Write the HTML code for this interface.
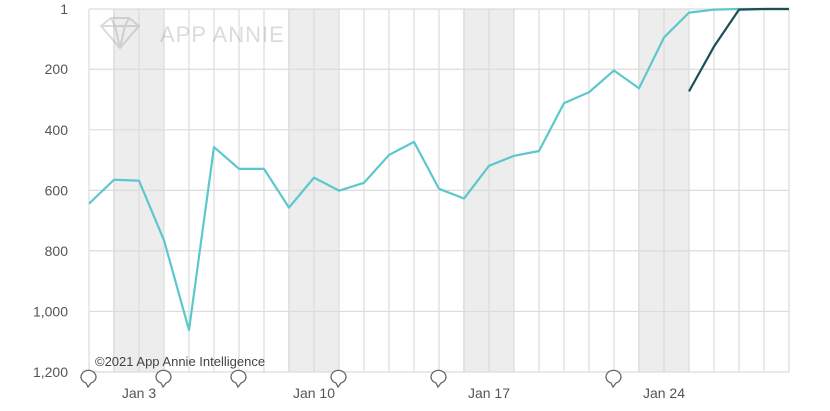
<!DOCTYPE html>
<html><head><meta charset="utf-8"><style>
body{margin:0;background:#fff;}
svg{display:block;font-family:"Liberation Sans",sans-serif;}
</style></head><body>
<svg id="chart" width="830" height="411" viewBox="0 0 830 411"></svg>
<script>
const days = ["Jan 1","Jan 2","Jan 3","Jan 4","Jan 5","Jan 6","Jan 7","Jan 8","Jan 9","Jan 10","Jan 11","Jan 12","Jan 13","Jan 14","Jan 15","Jan 16","Jan 17","Jan 18","Jan 19","Jan 20","Jan 21","Jan 22","Jan 23","Jan 24","Jan 25","Jan 26","Jan 27","Jan 28","Jan 29"];
const mainRank = [644,565,568,765,1061,457,529,529,657,558,601,575,483,440,595,627,519,486,470,312,276,204,263,95,13,3,1,1,1];
const secondRank = [null,null,null,null,null,null,null,null,null,null,null,null,null,null,null,null,null,null,null,null,null,null,null,null,273,125,3,1,1];
const yTicks = [1,200,400,600,800,1000,1200];
const yTickLabels = ["1","200","400","600","800","1,000","1,200"];
const weekendIdx = [1,8,15,22];
const xLabelIdx = [2,9,16,23];
const noteIdx = [0,3,6,10,14,21];

const svg = document.getElementById('chart');
const NS = 'http://www.w3.org/2000/svg';
const x0 = 89, dx = 25, yTop = 9, yBot = 372;
const xs = i => x0 + i*dx;
const ys = v => yTop + (v-1)/(1200-1)*(yBot-yTop);
function mk(tag, attrs, parent){const e=document.createElementNS(NS,tag);for(const k in attrs)e.setAttribute(k,attrs[k]);(parent||svg).appendChild(e);return e;}

weekendIdx.forEach(i=>{
  const r=mk('rect',{x:xs(i)-1,y:yTop,width:2*dx+1,height:yBot-yTop,fill:'#ededed'});
  
  
});
days.forEach((d,i)=>{
  const l=mk('line',{x1:xs(i),x2:xs(i),y1:yTop,y2:yBot,stroke:'#dcdcdc','stroke-width':1.2});
  
  
});
yTicks.forEach((v,i)=>{
  const l=mk('line',{x1:x0,x2:xs(days.length-1),y1:ys(v),y2:ys(v),stroke:'#dcdcdc','stroke-width':1.2});
  
  
  const t=mk('text',{x:68,y:ys(v)+5,'text-anchor':'end','font-size':14,fill:'#555'});
  t.textContent=yTickLabels[i];
  
  
});
xLabelIdx.forEach(i=>{
  const t=mk('text',{x:xs(i),y:398,'text-anchor':'middle','font-size':14,fill:'#555'});
  t.textContent=days[i];
  
  
});
// watermark
const wm=mk('g',{opacity:0.35});


mk('path',{d:'M101 26 L111 18 L129 18 L139 26 L120 48 Z M101 26 L139 26 M111 18 L115 26 L120 48 L125 26 L129 18',fill:'none',stroke:'#999','stroke-width':2},wm);
const wt=mk('text',{x:160,y:42,'font-size':22,fill:'#999','letter-spacing':1},wm);
wt.textContent='APP ANNIE';
const cp=mk('text',{x:95,y:366,'font-size':13,fill:'#444'});
cp.textContent='©2021 App Annie Intelligence';



function line(arr,color,name){
  let d='';
  arr.forEach((v,i)=>{if(v==null)return;d+=(d?'L':'M')+xs(i)+' '+ys(v)+' ';});
  const p=mk('path',{d:d,fill:'none',stroke:color,'stroke-width':2.2,'stroke-linejoin':'round'});
  
  
}
line(mainRank,'#5cc8cc','main-rank-line');
line(secondRank,'#1d4e57','second-rank-line');

noteIdx.forEach(i=>{
  const g=mk('g',{});
  
  
  mk('path',{d:`M${xs(i)-3} 383 A7.5 6.5 0 1 1 ${xs(i)+2} 383 L${xs(i)-1} 387 Z`,fill:'#fff',stroke:'#666','stroke-width':1.3},g);
});
</script>
</body></html>
